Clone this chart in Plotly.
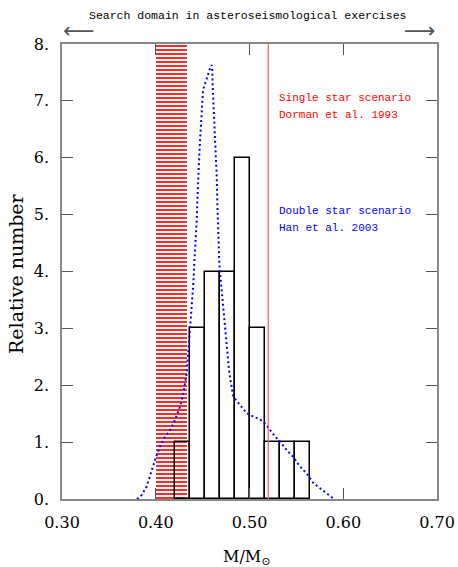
import plotly.graph_objects as go

# Histogram (bin edges and counts)
bin_edges = [0.420, 0.436, 0.452, 0.468, 0.484, 0.500, 0.516, 0.532, 0.548, 0.564]
bin_counts = [1, 3, 4, 4, 6, 3, 1, 1, 1]

# Single star scenario (Dorman et al. 1993): hatched region and line
single_range = [0.400, 0.4335]
single_line = 0.52

# Double star scenario (Han et al. 2003): distribution curve
han_x = [0.3800, 0.3850, 0.3903, 0.3957, 0.3999, 0.4045, 0.4099, 0.4152, 0.4205, 0.4259,
         0.4294, 0.4330, 0.4347, 0.4365, 0.4383, 0.4401, 0.4411, 0.4426, 0.4437, 0.4443,
         0.4454, 0.4461, 0.4472, 0.4483, 0.4490, 0.4497, 0.4504, 0.4518, 0.4536, 0.4561,
         0.4579, 0.4597, 0.4603, 0.4607, 0.4614, 0.4624, 0.4632, 0.4643, 0.4650, 0.4657,
         0.4667, 0.4678, 0.4693, 0.4721, 0.4739, 0.4763, 0.4785, 0.4827, 0.4899, 0.4970,
         0.5041, 0.5112, 0.5165, 0.5219, 0.5272, 0.5325, 0.5397, 0.5467, 0.5539, 0.5610,
         0.5681, 0.5752, 0.5824, 0.5894]
han_y = [0.00, 0.07, 0.22, 0.51, 0.72, 0.92, 1.10, 1.21, 1.39, 1.62,
         1.86, 2.21, 2.56, 2.97, 3.26, 3.79, 4.14, 4.49, 4.90, 5.20,
         5.78, 5.93, 6.28, 6.63, 6.87, 7.10, 7.19, 7.26, 7.36, 7.48,
         7.57, 7.63, 7.54, 7.28, 6.92, 6.63, 6.34, 5.93, 5.72, 5.20,
         4.61, 4.14, 3.85, 3.38, 2.97, 2.56, 2.21, 1.80, 1.65, 1.51,
         1.45, 1.40, 1.33, 1.21, 1.10, 1.01, 0.86, 0.74, 0.57, 0.45,
         0.28, 0.19, 0.10, 0.01]

x_ticks = [0.30, 0.40, 0.50, 0.60, 0.70]
x_ticktext = ["0.30", "0.40", "0.50", "0.60", "0.70"]
y_ticks = [0, 1, 2, 3, 4, 5, 6, 7, 8]
y_ticktext = ["0.", "1.", "2.", "3.", "4.", "5.", "6.", "7.", "8."]

fig = go.Figure()

# hatched region
fig.add_trace(go.Bar(
    x=[(single_range[0] + single_range[1]) / 2],
    y=[y_ticks[-1]],
    width=[single_range[1] - single_range[0]],
    base=0,
    marker=dict(color="rgba(0,0,0,0)", line=dict(width=0),
                pattern=dict(shape="-", fgcolor="#ff1010", fgopacity=1,
                             bgcolor="rgba(255,255,255,0)",
                             size=4, solidity=0.45, fillmode="overlay")),
    showlegend=False, hoverinfo="skip",
))

# histogram
centers = [(a + b) / 2 for a, b in zip(bin_edges[:-1], bin_edges[1:])]
widths = [b - a for a, b in zip(bin_edges[:-1], bin_edges[1:])]
fig.add_trace(go.Bar(
    x=centers, y=bin_counts, width=widths,
    marker=dict(color="rgba(0,0,0,0)", line=dict(color="#000000", width=1.5)),
    showlegend=False,
))

# Han et al. curve
fig.add_trace(go.Scatter(
    x=han_x, y=han_y, mode="lines",
    line=dict(color="#0000ff", width=2, dash="2px,2.8px"),
    showlegend=False,
))

fig.add_vline(x=single_line, line=dict(color="#ff5a5a", width=1.2))

mono = "Liberation Mono"
serif = "DejaVu Serif"

def ann(x, y, text, font, xanchor="center", **kw):
    fig.add_annotation(x=x, y=y, xref="paper", yref="paper", text=text, showarrow=False,
                       xanchor=xanchor, yanchor="middle", font=font, **kw)

def py(pix):
    return (499 - pix) / 455

def px(pix):
    return (pix - 62) / 375

ann(px(277), py(98), "Single star scenario", dict(family=mono, size=11, color="#ff0000"), "left")
ann(px(277), py(115), "Dorman et al. 1993", dict(family=mono, size=11, color="#ff0000"), "left")
ann(px(277), py(211), "Double star scenario", dict(family=mono, size=11, color="#0000ff"), "left")
ann(px(277), py(228), "Han et al. 2003", dict(family=mono, size=11, color="#0000ff"), "left")

# top caption and arrows
ann(px(247), py(15), "Search domain in asteroseismological exercises",
    dict(family=mono, size=11.5, color="#000000"))
ann(px(61), py(30), "⟵", dict(family="DejaVu Sans", size=22, color="#555555"), "left")
ann(px(438), py(30), "⟶", dict(family="DejaVu Sans", size=22, color="#555555"), "right")

# axis titles
ann(px(247), py(557), "M/M<sub>⊙</sub>", dict(family=serif, size=16, color="#000000"))
ann(px(16), py(274), "Relative number", dict(family=serif, size=19, color="#000000"),
    textangle=-90)

axis_common = dict(showgrid=False, zeroline=False, showline=True, linecolor="#888888",
                   linewidth=1.5, mirror="ticks", ticks="inside", ticklen=11,
                   tickcolor="#555555", tickwidth=1.2, automargin=False,
                   tickfont=dict(family=serif, size=16, color="#000000"))

fig.update_layout(
    width=458, height=567,
    margin=dict(l=62, r=21, t=44, b=68),
    paper_bgcolor="white", plot_bgcolor="white",
    barmode="overlay", bargap=0,
    xaxis=dict(range=[0.30, 0.70], tickvals=x_ticks, ticktext=x_ticktext,
               ticklabelstandoff=8, **axis_common),
    yaxis=dict(range=[0, 8], tickvals=y_ticks, ticktext=y_ticktext,
               ticklabelstandoff=8, **axis_common),
)

fig.write_html("out.html")
